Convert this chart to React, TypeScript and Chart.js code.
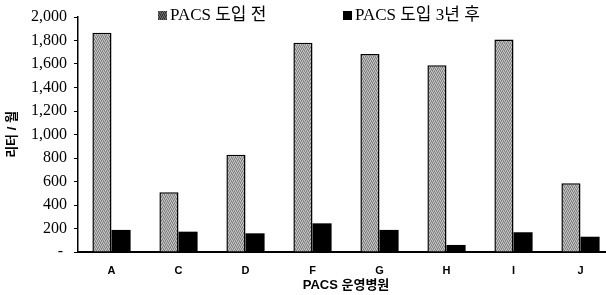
import React, { useEffect, useRef } from 'react';
import { Chart, registerables } from 'chart.js';

Chart.register(...registerables);

const categories = ['A', 'C', 'D', 'F', 'G', 'H', 'I', 'J'];
const beforeValues = [1865, 509, 827, 1780, 1686, 1589, 1808, 586];
const afterValues = [188, 173, 159, 244, 188, 60, 168, 130];
const seriesLabels = ['PACS 도입 전', 'PACS 도입 3년 후'];
const yMax = 2000;
const yStep = 200;
const yAxisTitle = '리터 / 월';
const xAxisTitle = 'PACS 운영병원';

const SERIF = "'Liberation Serif', 'Noto Sans CJK KR', serif";
const SANS = "'Liberation Sans', 'Noto Sans CJK KR', sans-serif";

function makePattern(light: boolean): CanvasPattern | string {
  const c = document.createElement('canvas');
  c.width = 4;
  c.height = 4;
  const g = c.getContext('2d');
  if (!g) return '#aaa';
  const a = light ? ['#c6c6c6', '#7c7c7c', '#b2b2b2', '#949494'] : ['#707070', '#303030', '#606060', '#404040'];
  const grid = [
    [0, 1, 2, 3],
    [2, 3, 0, 1],
    [1, 0, 3, 2],
    [3, 2, 1, 0],
  ];
  for (let y = 0; y < 4; y++) {
    for (let x = 0; x < 4; x++) {
      g.fillStyle = a[grid[y][x]];
      g.fillRect(x, y, 1, 1);
    }
  }
  return g.createPattern(c, 'repeat') || '#aaa';
}

const LEGEND_X = [158, 343];

export default function App() {
  const ref = useRef<HTMLCanvasElement>(null);

  useEffect(() => {
    if (!ref.current) return;
    const grayFill = makePattern(true);
    const legendGray = makePattern(false);

    const legendPlugin = {
      id: 'customLegend',
      afterDraw(chart: any) {
        const ctx = chart.ctx;
        ctx.save();
        chart.data.datasets.forEach((ds: any, i: number) => {
          const x = LEGEND_X[i];
          ctx.fillStyle = i === 0 ? legendGray : '#000';
          ctx.fillRect(x, 11, 9, 9);
          ctx.fillStyle = '#000';
          ctx.font = `17px ${SERIF}`;
          ctx.textBaseline = 'middle';
          ctx.textAlign = 'left';
          ctx.fillText(ds.label, x + 12, 16);
        });
        ctx.restore();
      },
    };

    const chart = new Chart(ref.current, {
      type: 'bar',
      data: {
        labels: categories,
        datasets: [
          {
            label: seriesLabels[0],
            data: beforeValues,
            backgroundColor: grayFill as any,
            borderColor: '#000',
            borderWidth: 1.5,
            categoryPercentage: 0.57,
            barPercentage: 1.0,
          },
          {
            label: seriesLabels[1],
            data: afterValues,
            backgroundColor: '#000',
            borderWidth: 0,
            categoryPercentage: 0.57,
            barPercentage: 1.0,
          },
        ],
      },
      options: {
        animation: false,
        responsive: true,
        maintainAspectRatio: false,
        layout: { padding: { top: 17, left: 0, right: 0, bottom: 0 } },
        plugins: {
          legend: { display: false },
          tooltip: { enabled: false },
        },
        scales: {
          x: {
            grid: { display: false, drawTicks: false },
            border: { display: true, color: '#000', width: 2 },
            ticks: {
              padding: 12,
              color: '#000',
              font: { family: SANS, size: 11, weight: 'bold' },
            },
            title: {
              display: true,
              text: xAxisTitle,
              color: '#000',
              font: { family: SANS, size: 13, weight: 'bold' },
              padding: { top: 0, bottom: 2 },
            },
            afterFit: (s: any) => {
              s.height = 43;
            },
          },
          y: {
            min: 0,
            max: yMax,
            grid: {
              display: true,
              drawOnChartArea: false,
              drawTicks: true,
              tickLength: 4,
              color: '#000',
            },
            border: { display: true, color: '#000', width: 1.5 },
            ticks: {
              stepSize: yStep,
              padding: 7,
              color: '#000',
              font: { family: SERIF, size: 16 },
              callback: (v: any) => (Number(v) === 0 ? '- ' : Number(v).toLocaleString('en-US')),
            },
            title: {
              display: true,
              text: yAxisTitle,
              color: '#000',
              font: { family: SANS, size: 13, weight: 'bold' },
              padding: { top: 5, bottom: 0 },
            },
            afterFit: (s: any) => {
              s.width = 78;
            },
          },
        },
      },
      plugins: [legendPlugin],
    });
    return () => chart.destroy();
  }, []);

  return (
    <div style={{ position: 'fixed', left: 0, top: 0, width: 614, height: 295, background: '#fff' }}>
      <canvas ref={ref} />
    </div>
  );
}
